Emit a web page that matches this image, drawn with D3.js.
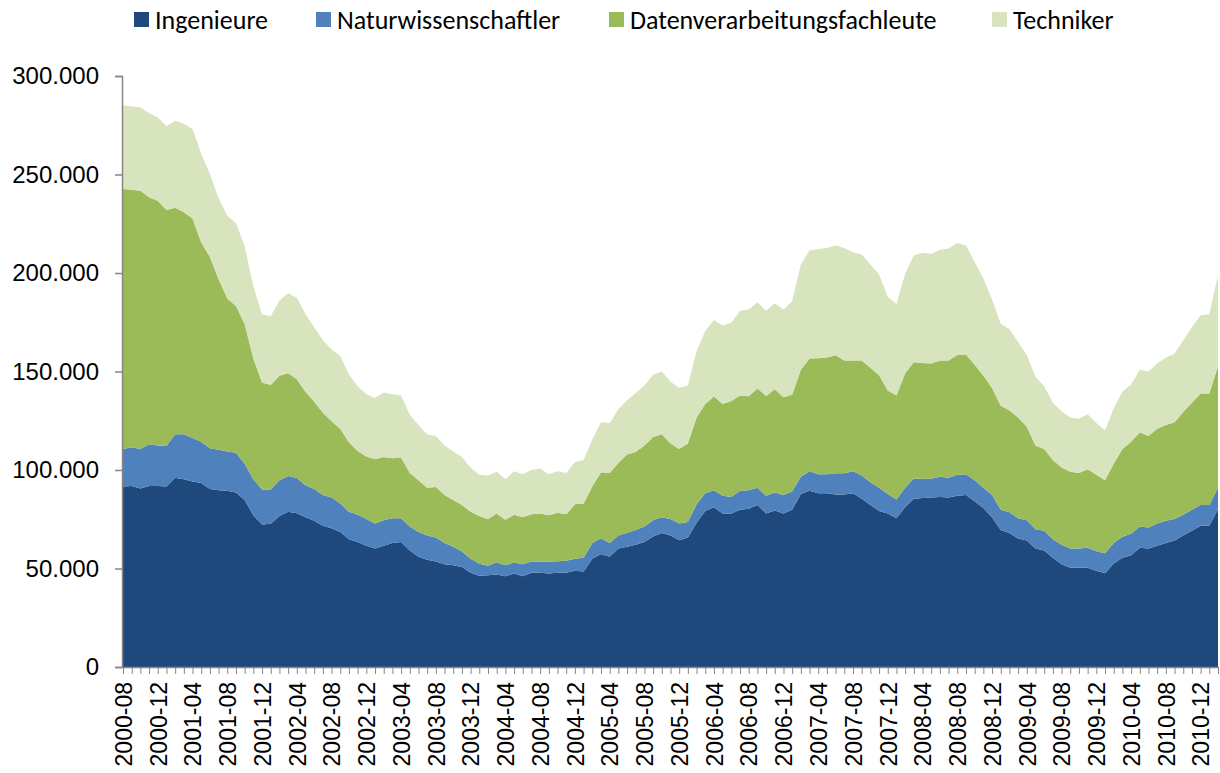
<!DOCTYPE html>
<html>
<head>
<meta charset="utf-8">
<script src="https://cdn.jsdelivr.net/npm/d3@7"></script>
<style>
  body { margin: 0; background: #fff; }
  svg { display: block; font-family: Calibri, Carlito, Lato, sans-serif; }
</style>
</head>
<body>
<svg id="chart" width="1220" height="773"></svg>
<script>
// monthly categories 2000-08 .. 2011-02
const categories = d3.utcMonth.range(Date.UTC(2000, 7, 1), Date.UTC(2011, 2, 1))
    .map(d3.utcFormat("%Y-%m"));

const tickLabels = ["2000-08", "2000-12", "2001-04", "2001-08", "2001-12", "2002-04", "2002-08",
    "2002-12", "2003-04", "2003-08", "2003-12", "2004-04", "2004-08", "2004-12", "2005-04",
    "2005-08", "2005-12", "2006-04", "2006-08", "2006-12", "2007-04", "2007-08", "2007-12",
    "2008-04", "2008-08", "2008-12", "2009-04", "2009-08", "2009-12", "2010-04", "2010-08",
    "2010-12"];

const yTicks = [0, 50000, 100000, 150000, 200000, 250000, 300000];

const seriesNames = ["Ingenieure", "Naturwissenschaftler", "Datenverarbeitungsfachleute", "Techniker"];
const seriesColors = ["#1f497d", "#4f81bd", "#9bbb59", "#d7e4bd"];

const ingenieure = [
    91600, 91900, 90600, 91900, 91900, 91600, 96100, 95300, 94200, 93400,
    90400, 89700, 89500, 88600, 84800, 77000, 72300, 72700, 76600, 78800,
    78100, 76000, 74200, 71700, 70400, 68500, 64800, 63500, 61600, 60100,
    61600, 62900, 63500, 59200, 56000, 54500, 53600, 52200, 51700, 50700,
    47900, 46300, 46600, 47000, 46100, 47400, 46100, 47800, 47800, 47400,
    47900, 47900, 48900, 48500, 54900, 57300, 56000, 60100, 61000, 62000,
    63500, 66200, 68000, 66700, 64400, 65700, 73200, 79200, 81100, 77900,
    77900, 79800, 80300, 82200, 77900, 79400, 77900, 79800, 87800, 89500,
    88200, 88200, 87600, 87600, 88200, 85400, 82200, 79200, 77900, 75500,
    81100, 85400, 85800, 86000, 86300, 86000, 86900, 87300, 84100, 80700,
    76000, 69500, 68000, 65200, 64200, 60100, 59200, 55400, 52100, 50400,
    50400, 50400, 48900, 47600, 52600, 55400, 56700, 60500, 60100, 61600,
    62900, 64200, 66700, 69100, 71700, 71700, 80100];

const naturwissenschaftler = [
    19100, 19700, 20100, 21200, 20600, 20600, 22100, 22900, 22100, 21000,
    20600, 20600, 19900, 20200, 18400, 18300, 17800, 17400, 18200, 18200,
    17800, 16300, 16200, 15600, 15600, 14500, 14000, 13800, 13500, 12700,
    12900, 12600, 12000, 12100, 12500, 12200, 12100, 10700, 9300, 7900,
    7000, 6100, 4800, 6200, 5600, 5600, 6100, 5800, 5800, 6200,
    5800, 6000, 6000, 6900, 8000, 8100, 6900, 6600, 7200, 7500,
    7800, 8300, 8000, 8400, 8400, 7900, 9400, 9000, 8600, 9000,
    8400, 9700, 9400, 8800, 9000, 9200, 9400, 9300, 8800, 9900,
    9700, 9700, 10700, 10700, 11200, 11800, 11600, 11800, 9900, 9500,
    9900, 10300, 9700, 9500, 10300, 10100, 10700, 10600, 10700, 10300,
    11300, 10300, 10500, 10300, 10300, 9800, 9900, 9400, 9900, 9700,
    9700, 10100, 9900, 10100, 10300, 10700, 10900, 10800, 10700, 11200,
    11300, 10900, 10600, 10700, 10500, 10500, 10900];

const datenverarbeitung = [
    132000, 130700, 131100, 125300, 124200, 119800, 114900, 112700, 111400, 101100,
    97100, 86500, 77700, 74500, 70800, 61300, 54300, 53000, 53000, 52100,
    50200, 47400, 44200, 41700, 38700, 38000, 35200, 32400, 31800, 32600,
    32100, 30500, 30900, 27200, 26300, 24300, 25700, 24400, 23800, 23600,
    23900, 24200, 23700, 24700, 23000, 24300, 23800, 23900, 24300, 23400,
    24600, 23600, 27700, 27600, 28700, 33500, 35600, 36900, 39700, 39700,
    41200, 42300, 42200, 38400, 37900, 39900, 44000, 45300, 47600, 46600,
    48700, 48300, 47800, 50400, 50700, 52400, 49600, 49100, 54300, 57200,
    58800, 59200, 59900, 57300, 56200, 58400, 58100, 57100, 52500, 52800,
    58100, 59000, 58800, 58600, 59000, 59500, 60800, 60700, 58600, 56800,
    54300, 52800, 51800, 51100, 47400, 42600, 41600, 40300, 39300, 39000,
    38400, 39900, 38800, 37100, 40300, 44600, 46800, 47800, 46400, 48200,
    48600, 49100, 52100, 54300, 56600, 56600, 61800];

const techniker = [
    42500, 42200, 42300, 42700, 42200, 42500, 44200, 44900, 45400, 45000,
    42100, 41200, 41900, 42000, 39700, 36500, 34600, 35000, 38200, 40600,
    41400, 39300, 37900, 36900, 36500, 36900, 34500, 32800, 31500, 31100,
    32700, 32400, 31400, 29600, 28000, 27200, 25800, 25200, 24600, 24400,
    22300, 21000, 22100, 21200, 20600, 22100, 21900, 22500, 22800, 20900,
    21100, 21000, 21500, 22100, 23800, 25400, 25300, 27300, 27500, 29900,
    30400, 31500, 31800, 31300, 30900, 29400, 33700, 37100, 38900, 39900,
    39900, 43100, 44000, 43800, 43300, 43600, 44600, 47400, 53400, 54800,
    55500, 55600, 55800, 57100, 54900, 53800, 52400, 51200, 47500, 46500,
    50500, 54300, 56000, 55500, 56200, 56800, 56800, 55400, 52200, 49400,
    44900, 41700, 41200, 38400, 36500, 34700, 31800, 29000, 28500, 27500,
    27500, 27900, 26200, 25200, 28100, 29000, 29000, 31800, 32800, 33100,
    34300, 34800, 36500, 38400, 39700, 40200, 45900];

// ---- build table for d3.stack
const seriesValues = [ingenieure, naturwissenschaftler, datenverarbeitung, techniker];
const table = categories.map((c, i) => {
    const row = { month: c };
    seriesNames.forEach((n, k) => row[n] = seriesValues[k][i]);
    return row;
});

const svg = d3.select("#chart");
const plot = { left: 123, right: 1218, top: 76, bottom: 667 };
const axisColor = "#868686";

const x = d3.scalePoint().domain(categories).range([plot.left, plot.right]).padding(0);
const y = d3.scaleLinear().domain([0, 300000]).range([plot.bottom, plot.top]);

const stacked = d3.stack().keys(seriesNames)(table);

const area = d3.area()
    .x(d => x(d.data.month))
    .y0(d => y(d[0]))
    .y1(d => y(d[1]));

svg.append("g")
    .selectAll("path")
    .data(stacked)
    .join("path")
    .attr("fill", (d, i) => seriesColors[i])
    .attr("d", area);

// ---- axes
const de = d3.formatLocale({ decimal: ",", thousands: ".", grouping: [3], currency: ["", " €"] });

const yAxis = svg.append("g")
    .attr("transform", `translate(${plot.left - 1},0)`)
    .call(d3.axisLeft(y).tickValues(yTicks).tickFormat(de.format(",")).tickSize(7).tickPadding(16));
yAxis.select(".domain").attr("stroke", axisColor).attr("stroke-width", 1.5);
yAxis.selectAll(".tick line").attr("stroke", axisColor).attr("stroke-width", 1.5);
yAxis.selectAll("text")
    .attr("fill", "#000")
    .style("font-size", "24px");

const showLabel = new Set(tickLabels);
const xAxis = svg.append("g")
    .attr("transform", `translate(0,${plot.bottom})`)
    .call(d3.axisBottom(x).tickSize(7).tickSizeOuter(0)
        .tickFormat(d => showLabel.has(d) ? d : ""));
xAxis.select(".domain").attr("stroke", axisColor).attr("stroke-width", 1.5);
xAxis.selectAll(".tick line").attr("stroke", axisColor).attr("stroke-width", 1);
xAxis.selectAll("text")
    .attr("fill", "#000")
    .style("font-size", "23px")
    .attr("text-anchor", "end")
    .attr("transform", "rotate(-90)")
    .attr("x", -15)
    .attr("y", 0)
    .attr("dy", "0.36em");

// ---- legend
const legendX = [134, 316, 609, 992];
const legend = svg.append("g")
    .selectAll("g")
    .data(seriesNames)
    .join("g")
    .attr("transform", (d, i) => `translate(${legendX[i]},12)`);
legend.append("rect")
    .attr("width", 15)
    .attr("height", 15)
    .attr("fill", (d, i) => seriesColors[i]);
legend.append("text")
    .attr("x", 21)
    .attr("y", 8)
    .attr("dy", "0.36em")
    .style("font-size", "26px")
    .text(d => d);
</script>
</body>
</html>
